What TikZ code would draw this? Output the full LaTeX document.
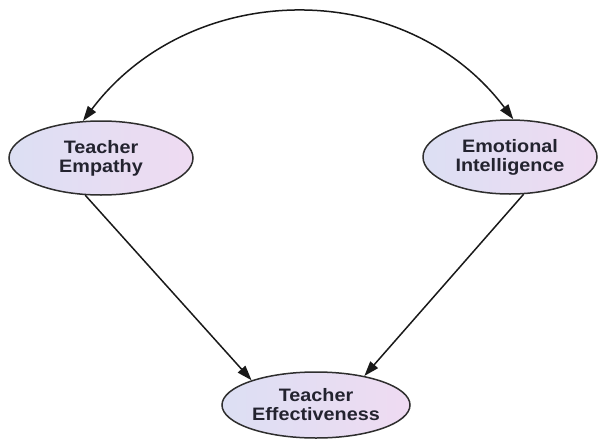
\documentclass[tikz,border=0pt]{standalone}
\usepackage{fontspec}
\setmainfont{Liberation Sans}
\usetikzlibrary{arrows.meta,shapes.geometric}
\definecolor{fillL}{HTML}{DCDFF3}
\definecolor{fillR}{HTML}{EFDBF2}
\definecolor{edge}{HTML}{2E2E2E}
\definecolor{txt}{HTML}{23232F}
\newcommand\widetxt[1]{\scalebox{1.1}[1]{#1}}
\tikzset{
  construct/.style={ellipse, draw=edge, line width=1.5pt, left color=fillL, right color=fillR,
    inner sep=0pt, align=center, text=txt,
    font=\fontsize{18}{19}\selectfont\bfseries},
  tip/.tip={Triangle[length=15pt,width=10pt]},
  arr/.style={draw=black!90, line width=1.5pt, -tip},
  biarr/.style={draw=black!90, line width=1.5pt, tip-tip}
}
\begin{document}
\begin{tikzpicture}[x=1pt,y=-1pt]
\useasboundingbox (0,0) rectangle (599,439);
\node[construct, minimum width=184pt, minimum height=74pt] (te) at (101,158) {\widetxt{Teacher}\\\widetxt{Empathy}};
\node[construct, minimum width=174pt, minimum height=74pt] (ei) at (510,157) {\widetxt{Emotional}\\\widetxt{Intelligence}};
\node[construct, minimum width=188pt, minimum height=66pt] (tf) at (316,405) {\widetxt{Teacher}\\\widetxt{Effectiveness}};
\draw[biarr] (te.116) .. controls +(108,-143) and +(-108,-143) .. (ei.85);
\draw[arr] (te.-113) -- (tf.159);
\draw[arr] (ei.-70) -- (tf.31);
\end{tikzpicture}
\end{document}
